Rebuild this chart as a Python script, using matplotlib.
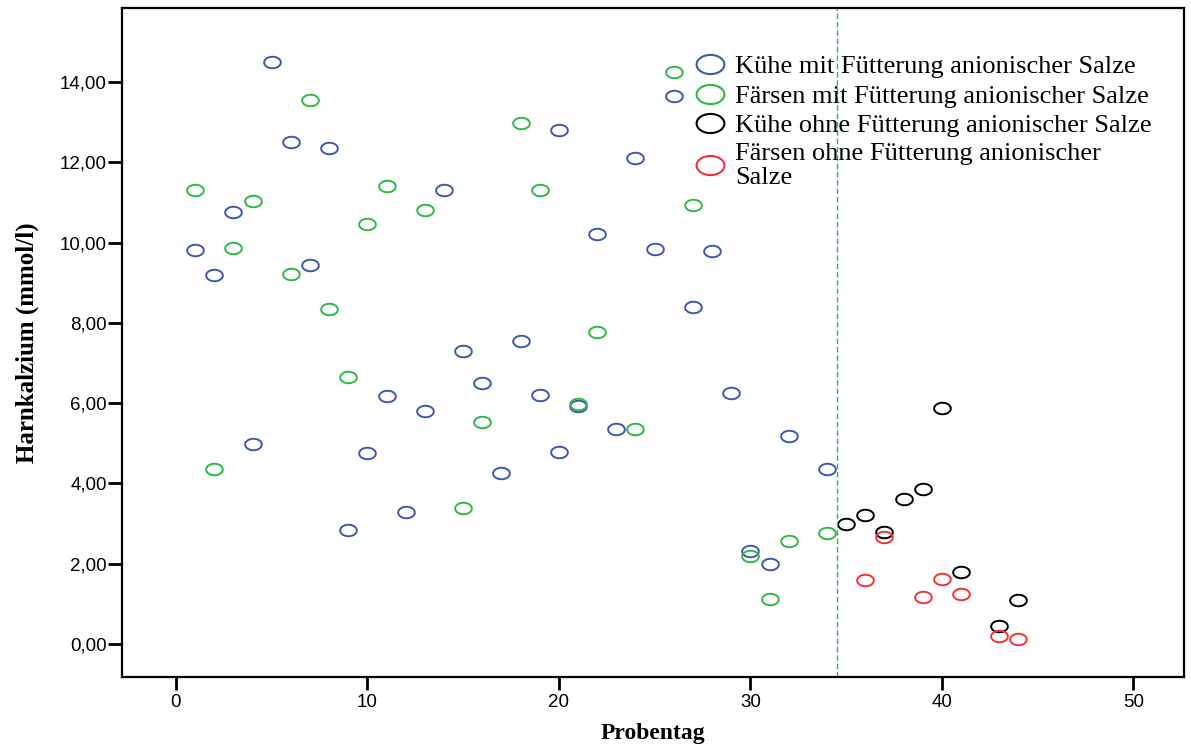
import numpy as np
import matplotlib
matplotlib.use('Agg')
import matplotlib.pyplot as plt
from matplotlib.lines import Line2D
from matplotlib.ticker import FuncFormatter

# Kühe mit Fütterung anionischer Salze
kuehe_mit_x = [1, 2, 3, 4, 5, 6, 7, 8, 9, 10, 11, 12, 13, 14, 15, 16, 17, 18, 19, 20, 20,
               21, 22, 23, 24, 25, 26, 27, 28, 29, 30, 31, 32, 34]
kuehe_mit_y = [9.82, 9.18, 10.75, 4.98, 14.5, 12.5, 9.45, 12.35, 2.85, 4.77, 6.18, 3.3, 5.8,
               11.3, 7.3, 6.5, 4.25, 7.55, 6.2, 12.8, 4.78, 5.93, 10.2, 5.35, 12.1, 9.83,
               13.65, 8.4, 9.8, 6.25, 2.32, 2.0, 5.17, 4.37]
# Färsen mit Fütterung anionischer Salze
faersen_mit_x = [1, 2, 3, 4, 6, 7, 8, 9, 10, 11, 13, 15, 16, 18, 19, 21, 22, 24, 26, 27,
                 30, 31, 32, 34]
faersen_mit_y = [11.32, 4.35, 9.86, 11.03, 9.21, 13.55, 8.35, 6.65, 10.45, 11.4, 10.8, 3.38,
                 5.52, 12.98, 11.31, 5.97, 7.77, 5.36, 14.25, 10.94, 2.2, 1.12, 2.57, 2.76]
# Kühe ohne Fütterung anionischer Salze
kuehe_ohne_x = [35, 36, 37, 38, 39, 40, 41, 43, 44]
kuehe_ohne_y = [2.99, 3.22, 2.79, 3.62, 3.85, 5.89, 1.79, 0.45, 1.1]
# Färsen ohne Fütterung anionischer Salze
faersen_ohne_x = [36, 37, 39, 40, 41, 43, 44]
faersen_ohne_y = [1.59, 2.66, 1.17, 1.62, 1.25, 0.19, 0.12]

labels = ['Kühe mit Fütterung anionischer Salze',
          'Färsen mit Fütterung anionischer Salze',
          'Kühe ohne Fütterung anionischer Salze',
          'Färsen ohne Fütterung anionischer\nSalze']
colors = ['#3e58ac', '#2eb848', '#000000', '#ef3338']
grenze = 34.5

# flat ellipse marker (picture is stretched sideways)
t = np.linspace(0, 2 * np.pi, 61)
ell = np.column_stack([1.45 * np.cos(t), np.sin(t)])

fig = plt.figure(figsize=(11.91, 7.46), dpi=100)
ax = fig.add_axes([122 / 1191, 1 - 677 / 746, (1184 - 122) / 1191, (677 - 8) / 746])

series = [(kuehe_mit_x, kuehe_mit_y), (faersen_mit_x, faersen_mit_y),
          (kuehe_ohne_x, kuehe_ohne_y), (faersen_ohne_x, faersen_ohne_y)]
for (xs, ys), c in zip(series, colors):
    ax.plot(xs, ys, ls='none', marker=ell, ms=12, mfc='none', mec=c, mew=1.4)

ax.axvline(grenze, color='#2eb848', lw=1, ls=(0, (4, 2)))

ax.set_xlim(-2.82, 52.65)
ax.set_ylim(-0.82, 15.84)
ax.set_xticks([0, 10, 20, 30, 40, 50])
ax.set_yticks(np.arange(0, 15, 2))
ax.yaxis.set_major_formatter(FuncFormatter(lambda v, p: f'{v:.2f}'.replace('.', ',')))

for s in ax.spines.values():
    s.set_linewidth(1.6)
ax.tick_params(axis='y', direction='out', length=10, width=2, pad=1,
               labelsize=13.5, labelfontfamily='Liberation Sans')
ax.tick_params(axis='x', direction='out', length=9, width=2, pad=3,
               labelsize=13.5, labelfontfamily='Liberation Sans')

ax.set_xlabel('Probentag', fontsize=17, fontweight='bold', family='Liberation Serif', labelpad=9)
ax.set_ylabel('Harnkalzium (mmol/l)', fontsize=18, fontweight='bold', family='Liberation Serif',
              labelpad=15)

handles = [Line2D([], [], ls='none', marker=ell, ms=20, mfc='none', mec=c, mew=1.5) for c in colors]
leg = ax.legend(handles, labels, loc='upper left', bbox_to_anchor=(693 / 1191, 1 - 55 / 746),
                bbox_transform=fig.transFigure, frameon=False, borderpad=0, labelspacing=0.22,
                handlelength=1.3, handletextpad=0.3, borderaxespad=0,
                prop={'family': 'Liberation Serif', 'size': 19})
leg.get_texts()[3].set_linespacing(1.12)

fig.savefig('out.png', dpi=100)
